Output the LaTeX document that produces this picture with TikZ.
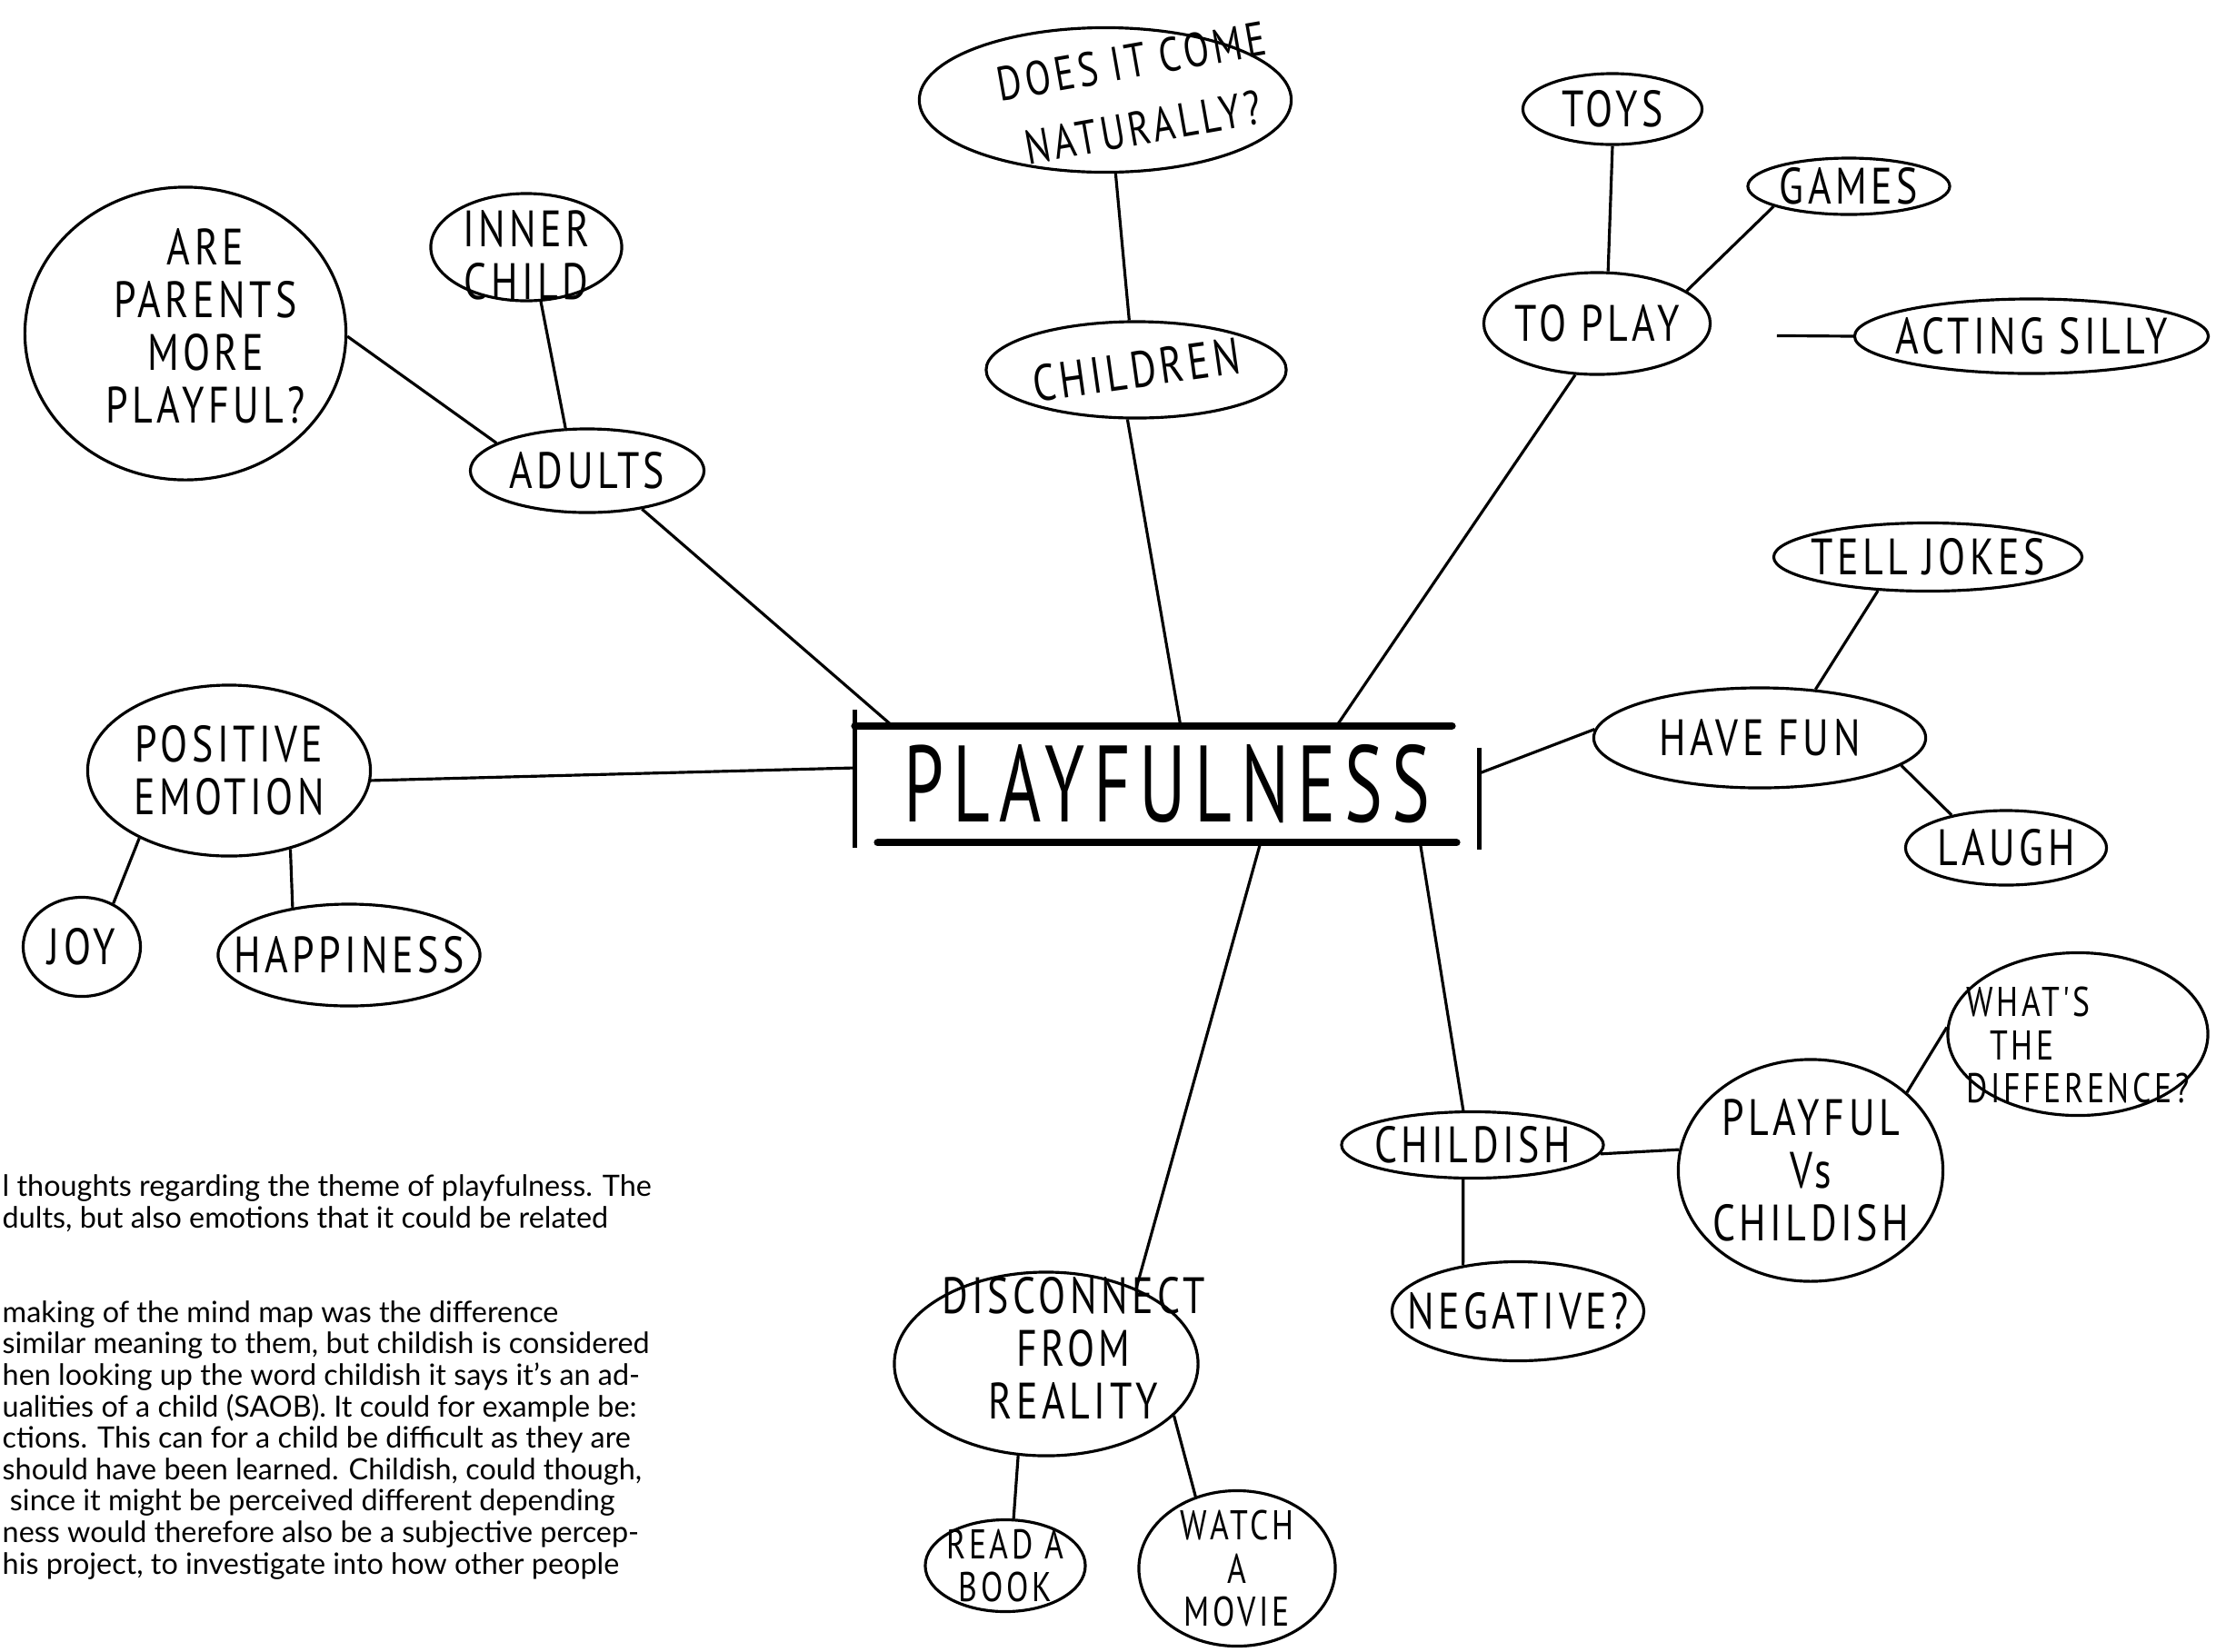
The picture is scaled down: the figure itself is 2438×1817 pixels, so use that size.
\documentclass[tikz,border=0pt]{standalone}
\usepackage{fontspec}
\setmainfont{Lato}
\newfontfamily\handfont[FakeStretch=0.78,LetterSpace=8]{PT Sans}
\newfontfamily\titlefont[FakeStretch=0.66,LetterSpace=8]{PT Sans}
\usetikzlibrary{shapes.geometric}

\tikzset{
  blob/.style 2 args={ellipse, draw, line width=0.9pt, inner sep=0pt, minimum width=#1, minimum height=#2},
  link/.style={line width=0.9pt},
  every label/.style={inner sep=0pt, align=center, font=\handfont\fontsize{16}{16.5}\selectfont},
  smallhand/.style={font=\handfont\fontsize{13}{13.5}\selectfont},
}

\begin{document}
\begin{tikzpicture}[x=0.01cm, y=-0.01cm]
        \useasboundingbox (0,0) rectangle (2438,1817);

        % Nodes
        \node (core) [inner sep=0pt, minimum width=6.85cm, minimum height=1.27cm, font=\titlefont\fontsize{34}{34}\selectfont] at (1284,863) {PLAYFULNESS};

        \node (parents) [blob={3.53cm}{3.22cm}, label={[xshift=0.22cm, yshift=0.08cm]center:ARE\\PARENTS\\MORE\\PLAYFUL?}] at (204,367) {};
        \node (inner) [blob={2.10cm}{1.18cm}, label={[yshift=-0.09cm]center:INNER\\CHILD}] at (579,272) {};
        \node (adults) [blob={2.57cm}{0.92cm}, label=center:ADULTS] at (646,518) {};

        \node (natural) [blob={4.09cm}{1.59cm}, label={[xshift=0.35cm, yshift=0.06cm, rotate=10, font=\handfont\fontsize{15}{21}\selectfont]center:DOES IT COME\\NATURALLY?}] at (1216,110) {};
        \node (children) [blob={3.30cm}{1.06cm}, label={[rotate=8]center:CHILDREN}] at (1250,407) {};

        \node (toys) [blob={1.97cm}{0.78cm}, label=center:TOYS] at (1774,120) {};
        \node (games) [blob={2.22cm}{0.62cm}, label=center:GAMES] at (2034,205) {};
        \node (toplay) [blob={2.49cm}{1.12cm}, label=center:TO PLAY] at (1757,356) {};
        \node (silly) [blob={3.89cm}{0.82cm}, label=center:ACTING SILLY] at (2235,370) {};

        \node (jokes) [blob={3.39cm}{0.75cm}, label=center:TELL JOKES] at (2121,613) {};
        \node (fun) [blob={3.65cm}{1.10cm}, label=center:HAVE FUN] at (1936,812) {};
        \node (laugh) [blob={2.21cm}{0.82cm}, label=center:LAUGH] at (2207,933) {};

        \node (positive) [blob={3.11cm}{1.88cm}, label={center:POSITIVE\\EMOTION}] at (252,848) {};
        \node (joy) [blob={1.29cm}{1.09cm}, label=center:JOY] at (90,1042) {};
        \node (happy) [blob={2.88cm}{1.12cm}, label=center:HAPPINESS] at (384,1051) {};

        \node (childish) [blob={2.88cm}{0.73cm}, label=center:CHILDISH] at (1620,1260) {};
        \node (versus) [blob={2.91cm}{2.44cm}, label={center:PLAYFUL\\Vs\\CHILDISH}] at (1992,1288) {};
        \node (difference) [blob={2.86cm}{1.79cm}, label={[smallhand, align=left, yshift=-0.12cm]center:WHAT'S\\\ \ THE\\DIFFERENCE?}] at (2286,1138) {};
        \node (negative) [blob={2.77cm}{1.09cm}, label=center:NEGATIVE?] at (1670,1443) {};

        \node (disconnect) [blob={3.34cm}{2.02cm}, label={[xshift=0.3cm, yshift=0.18cm]center:DISCONNECT\\FROM\\REALITY}] at (1151,1501) {};
        \node (book) [blob={1.76cm}{1.01cm}, label={[smallhand]center:READ A\\BOOK}] at (1106,1723) {};
        \node (movie) [blob={2.16cm}{1.71cm}, label={[smallhand]center:WATCH\\A\\MOVIE}] at (1361,1726) {};

        \node (notes) [anchor=north west, align=left, inner sep=0pt, font=\fontsize{9.2}{9.85}\selectfont] at (2,1292) {l thoughts regarding the theme of playfulness. The\\
dults, but also emotions that it could be related\\[19.7pt]
making of the mind map was the difference\\
similar meaning to them, but childish is considered\\
hen looking up the word childish it says it’s an ad-\\
ualities of a child (SAOB). It could for example be:\\
ctions. This can for a child be difficult as they are\\
should have been learned. Childish, could though,\\
\ since it might be perceived different depending\\
ness would therefore also be a subjective percep-\\
his project, to investigate into how other people};

        % Frame
        \draw[line width=2.4pt, line cap=round] (core.north west) -- ([xshift=-0.3cm]core.north east);
        \draw[line width=2.4pt, line cap=round] ([xshift=0.25cm]core.south west) -- ([xshift=-0.25cm]core.south east);
        \draw[line width=1.4pt] ([yshift=0.18cm]core.north west) -- ([yshift=-0.06cm]core.south west);
        \draw[line width=1.4pt] ([yshift=-0.24cm]core.north east) -- ([yshift=-0.08cm]core.south east);

        % Edges
        \draw[link] (adults.-35) -- (core.168);
        \draw[link] (children.-100) -- (core.77);
        \draw[link] (toplay.-113) -- (core.19);
        \draw[link] (fun.177) -- (core.2);
        \draw[link] (positive.-4) -- (core.177);
        \draw[link] (disconnect.40) -- (core.-32);
        \draw[link] (childish.105) -- (core.-13);
        \draw[link] (inner.-75) -- (adults.117);
        \draw[link] (parents.-1) -- (adults.163);
        \draw[link] (natural.-82) -- (children.98);
        \draw[link] (toys.-90) -- (toplay.78);
        \draw[link] (games.-165) -- (toplay.20);
        \draw[link, shorten <=0.75cm] (toplay.-6) -- (silly.180);
        \draw[link] (jokes.-146) -- (fun.41);
        \draw[link] (fun.-11) -- (laugh.149);
        \draw[link] (positive.-143) -- (joy.54);
        \draw[link] (positive.-52) -- (happy.140);
        \draw[link] (childish.-4) -- (versus.171);
        \draw[link] (versus.39) -- (difference.177);
        \draw[link] (childish.-105) -- (negative.140);
        \draw[link] (disconnect.-107) -- (book.80);
        \draw[link] (disconnect.-22) -- (movie.120);

    \end{tikzpicture}
\end{document}
